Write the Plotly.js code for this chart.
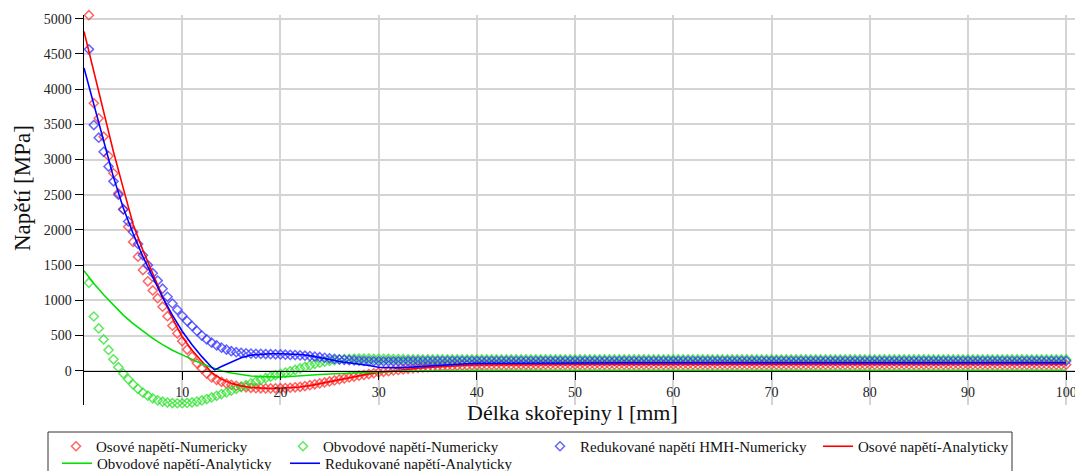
<!DOCTYPE html>
<html>
<head>
<meta charset="utf-8">
<script src="https://cdn.plot.ly/plotly-3.0.1.min.js"></script>
<style>html,body{margin:0;padding:0;background:#fff;}#chart{width:1075px;height:471px;}</style>
</head>
<body>
<div id="chart"></div>
<script>
// ---- data ----
const seriesNames = [
  "Osové napětí-Numericky",
  "Obvodové napětí-Numericky",
  "Redukované napětí HMH-Numericky",
  "Osové napětí-Analyticky",
  "Obvodové napětí-Analyticky",
  "Redukované napětí-Analyticky"
];

// numerical solution, x positions [mm]
const xNum = [
  0.5,1,1.5,2,2.5,3,3.5,4,4.5,5,
  5.5,6,6.5,7,7.5,8,8.5,9,9.5,10,
  10.5,11,11.5,12,12.5,13,13.5,14,14.5,15,
  15.5,16,16.5,17,17.5,18,18.5,19,19.5,20,
  20.5,21,21.5,22,22.5,23,23.5,24,24.5,25,
  25.5,26,26.5,27,27.5,28,28.5,29,29.5,30,
  30.5,31,31.5,32,32.5,33,33.5,34,34.5,35,
  35.5,36,36.5,37,37.5,38,38.5,39,39.5,40,
  40.5,41,41.5,42,42.5,43,43.5,44,44.5,45,
  45.5,46,46.5,47,47.5,48,48.5,49,49.5,50,
  50.5,51,51.5,52,52.5,53,53.5,54,54.5,55,
  55.5,56,56.5,57,57.5,58,58.5,59,59.5,60,
  60.5,61,61.5,62,62.5,63,63.5,64,64.5,65,
  65.5,66,66.5,67,67.5,68,68.5,69,69.5,70,
  70.5,71,71.5,72,72.5,73,73.5,74,74.5,75,
  75.5,76,76.5,77,77.5,78,78.5,79,79.5,80,
  80.5,81,81.5,82,82.5,83,83.5,84,84.5,85,
  85.5,86,86.5,87,87.5,88,88.5,89,89.5,90,
  90.5,91,91.5,92,92.5,93,93.5,94,94.5,95,
  95.5,96,96.5,97,97.5,98,98.5,99,99.5,100
];
const osoveNum = [
  5050,3800,3585,3325,3050,2805,2520,2295,2045,1830,
  1620,1430,1270,1140,1030,910,775,640,530,420,
  300,200,105,30,-40,-95,-130,-158,-183,-200,
  -215,-227,-236,-243,-248,-250,-251,-251,-250,-248,
  -246,-242,-236,-228,-218,-206,-193,-180,-166,-152,
  -138,-124,-110,-96,-83,-71,-59,-47,-36,-25,
  -15,-6,3,11,19,27,34,40,46,51,
  55,59,63,66,69,72,74,76,78,79,
  80,81,81,82,82,83,83,83,84,84,
  84,84,84,85,85,85,85,85,85,85,
  85,85,85,85,85,85,85,85,85,85,
  85,85,85,85,85,85,85,85,85,85,
  85,85,85,85,85,85,85,85,85,85,
  85,85,85,85,85,85,85,85,85,85,
  85,85,85,85,85,85,85,85,85,85,
  85,85,85,85,85,85,85,85,85,85,
  85,85,85,85,85,85,85,85,85,85,
  85,85,85,85,85,85,85,85,85,85,
  85,85,85,85,85,85,85,85,85,85,
  85,85,85,85,85,85,85,85,85,85
];
const obvodoveNum = [
  1250,770,600,445,295,162,50,-40,-120,-195,
  -258,-312,-355,-392,-420,-440,-452,-459,-462,-462,
  -458,-450,-438,-422,-402,-380,-356,-332,-308,-284,
  -258,-232,-206,-180,-155,-130,-106,-84,-64,-45,
  -26,-8,12,32,54,76,96,113,128,140,
  150,158,164,168,171,172,172,171,170,169,
  168,167,166,165,164,163,162,162,161,161,
  161,160,160,160,160,160,160,160,160,160,
  160,160,160,160,160,160,160,160,160,160,
  160,160,160,160,160,160,160,160,160,160,
  160,160,160,160,160,160,160,160,160,160,
  160,160,160,160,160,160,160,160,160,160,
  160,160,160,160,160,160,160,160,160,160,
  160,160,160,160,160,160,160,160,160,160,
  160,160,160,160,160,160,160,160,160,160,
  160,160,160,160,160,160,160,160,160,160,
  160,160,160,160,160,160,160,160,160,160,
  160,160,160,160,160,160,160,160,160,160,
  160,160,160,160,160,160,160,160,160,160,
  160,160,160,160,160,160,160,160,160,160
];
const redukovaneNum = [
  4565,3490,3310,3110,2900,2690,2500,2290,2120,1970,
  1800,1640,1500,1385,1280,1165,1050,955,865,780,
  705,635,565,500,445,398,360,328,300,278,
  263,254,248,244,241,239,237,235,233,231,
  228,225,222,218,213,207,200,192,184,176,
  168,161,155,150,146,142,139,137,135,134,
  133,133,133,134,134,135,135,136,136,137,
  137,137,138,138,138,138,138,138,138,138,
  138,138,138,138,138,138,138,138,138,138,
  138,138,138,138,138,138,138,138,138,138,
  138,138,138,138,138,138,138,138,138,138,
  138,138,138,138,138,138,138,138,138,138,
  138,138,138,138,138,138,138,138,138,138,
  138,138,138,138,138,138,138,138,138,138,
  138,138,138,138,138,138,138,138,138,138,
  138,138,138,138,138,138,138,138,138,138,
  138,138,138,138,138,138,138,138,138,138,
  138,138,138,138,138,138,138,138,138,138,
  138,138,138,138,138,138,138,138,138,138,
  138,138,138,138,138,138,138,138,138,138
];

// analytical solution
const xAn = [0,1,2,3,4,5,6,7,8,9,10,11,12,13,13.3,14,15,16,17,18,19,20,
  21,22,23,24,25,26,27,28,29,30,31,32,33,34,35,36,37,38,39,40,
  45,50,55,60,65,70,75,80,85,90,95,100];
const osoveAn = [4820,4240,3660,3110,2590,2080,1710,1370,1055,745,480,290,125,-25,-55,-120,-180,-215,-238,-248,-252,-250,
  -245,-232,-212,-185,-155,-125,-95,-68,-45,-25,-8,8,22,35,46,56,64,71,77,82,
  90,93,94,95,95,95,95,95,95,95,95,95];
const obvodoveAn = [1420,1240,1080,930,790,670,560,460,370,290,225,160,100,45,30,0,-32,-58,-74,-84,-89,-90,
  -82,-70,-62,-54,-47,-40,-33,-27,-21,-16,-12,-8,-5,-3,-1,1,2,3,4,5,
  6,7,7,7,7,7,7,7,7,7,7,7];
const redukovaneAn = [4300,3780,3230,2750,2310,1950,1620,1320,1040,790,560,370,200,50,12,60,118,185,222,236,241,241,
  238,230,214,190,160,130,112,100,75,50,40,40,48,58,68,78,86,93,99,104,
  110,112,113,114,114,114,114,114,114,114,114,114];

const xTickVals = [10,20,30,40,50,60,70,80,90,100];

// ---- chart ----
const serif = "'Liberation Serif','Times New Roman',serif";
const mk = (color) => ({symbol:'diamond-open', size:7, color:color, line:{width:1.5, color:color}});

const traces = [
  {x:xNum, y:osoveNum, name:seriesNames[0], mode:'markers', marker:mk('rgba(255,50,50,0.75)'), legend:'legend', cliponaxis:false},
  {x:xNum, y:obvodoveNum, name:seriesNames[1], mode:'markers', marker:mk('rgba(40,225,40,0.75)'), legend:'legend2', cliponaxis:false},
  {x:xNum, y:redukovaneNum, name:seriesNames[2], mode:'markers', marker:mk('rgba(50,50,255,0.75)'), legend:'legend3', cliponaxis:false},
  {x:xAn, y:osoveAn, name:seriesNames[3], mode:'lines', line:{color:'#ff0000', width:1.6}, legend:'legend4', cliponaxis:false},
  {x:xAn, y:obvodoveAn, name:seriesNames[4], mode:'lines', line:{color:'#00e000', width:1.6}, legend:'legend5', cliponaxis:false},
  {x:xAn, y:redukovaneAn, name:seriesNames[5], mode:'lines', line:{color:'#0000ff', width:1.6}, legend:'legend6', cliponaxis:false}
];

const L = 84, T = 15, PW = 991, PH = 390;
const px2x = (px) => (px - L) / PW;
const py2y = (py) => (T + PH - py) / PH;

const legFont = {family:serif, size:15, color:'#111'};
const mkLeg = (pxLeft, pyTop) => ({x:px2x(pxLeft), y:py2y(pyTop), xanchor:'left', yanchor:'top',
  bgcolor:'rgba(0,0,0,0)', borderwidth:0, font:legFont, orientation:'v'});

const yMin = -487, yMax = 5053;

const layout = {
  width:1075, height:471,
  margin:{l:L, r:0, t:T, b:471 - T - PH, autoexpand:false},
  paper_bgcolor:'#fff', plot_bgcolor:'#fff',
  showlegend:true,
  hovermode:false,
  xaxis:{
    range:[0,100.9], tickvals:xTickVals, ticktext:xTickVals.map(String),
    showgrid:true, gridcolor:'#d4d4d4', gridwidth:2,
    showline:true, linecolor:'#000', linewidth:1.5,
    ticks:'outside', ticklen:8, tickcolor:'#000', tickwidth:1,
    anchor:'free', position:(0 - yMin) / (yMax - yMin),
    zeroline:false, ticklabeloverflow:'allow',
    tickfont:{family:serif, size:14, color:'#222'}
  },
  yaxis:{
    range:[yMin, yMax], tick0:0, dtick:500,
    showgrid:true, gridcolor:'#d4d4d4', gridwidth:2,
    showline:true, linecolor:'#000', linewidth:1.5,
    ticks:'outside', ticklen:8, tickcolor:'#000', tickwidth:1,
    zeroline:false,
    tickfont:{family:serif, size:14, color:'#222'}
  },
  legend: mkLeg(56, 430),
  legend2: mkLeg(283, 430),
  legend3: mkLeg(540, 430),
  legend4: mkLeg(818, 430),
  legend5: mkLeg(57, 447),
  legend6: mkLeg(285, 447),
  shapes:[
    {type:'rect', xref:'paper', yref:'paper', x0:px2x(48), x1:px2x(1012), y0:py2y(432), y1:py2y(485),
     line:{color:'#333', width:1}, fillcolor:'rgba(0,0,0,0)', layer:'above'}
  ],
  annotations:[
    {text:'Napětí [MPa]', xref:'paper', yref:'paper', x:px2x(22), y:py2y(188), xanchor:'center', yanchor:'middle',
     textangle:-90, showarrow:false, font:{family:serif, size:23, color:'#111'}},
    {text:'Délka skořepiny l [mm]', xref:'paper', yref:'paper', x:px2x(572), y:py2y(412), xanchor:'center', yanchor:'middle',
     showarrow:false, font:{family:serif, size:22, color:'#111'}}
  ]
};

Plotly.newPlot('chart', traces, layout, {staticPlot:true, displayModeBar:false});
</script>
</body>
</html>
